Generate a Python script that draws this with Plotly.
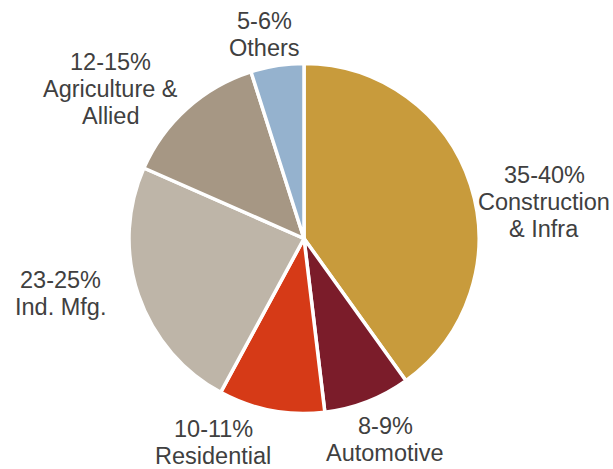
import plotly.graph_objects as go

# Segment shares (clockwise from 12 o'clock)
segments = ["Construction & Infra", "Automotive", "Residential",
            "Ind. Mfg.", "Agriculture & Allied", "Others"]
share_pct = [40.1, 8.0, 9.8, 23.7, 13.5, 4.9]
range_labels = ["35-40%", "8-9%", "10-11%", "23-25%", "12-15%", "5-6%"]
name_lines = [["Construction", "& Infra"], ["Automotive"], ["Residential"],
              ["Ind. Mfg."], ["Agriculture &", "Allied"], ["Others"]]
colors = ["#C89B3C", "#7B1C2A", "#D63A17", "#BEB5A8", "#A69784", "#95B2CE"]

# Layout: figure size, pie placement (pixels) and label anchors (pixels, top of first line)
W, H = 613, 469
CX, CY, R = 304, 238.5, 175
label_pos = [(544, 175), (385, 426), (213, 429), (60, 280), (110, 62), (264, 21)]
LINE_GAP = 27
FONT = dict(family="Liberation Sans, Arial, sans-serif", size=23.5, color="#404040")

fig = go.Figure(go.Pie(
    labels=segments,
    values=share_pct,
    sort=False,
    direction="clockwise",
    rotation=0,
    textinfo="none",
    marker=dict(colors=colors, line=dict(color="white", width=3.5)),
    domain=dict(x=[(CX - R) / W, (CX + R) / W], y=[1 - (CY + R) / H, 1 - (CY - R) / H]),
    showlegend=False,
    hoverinfo="label+value",
))

# Outside labels: range on the first line, segment name below
annotations = []
for (px, py), rng, names in zip(label_pos, range_labels, name_lines):
    for i, line in enumerate([rng] + names):
        annotations.append(dict(
            x=px / W, y=1 - (py + i * LINE_GAP) / H,
            xref="paper", yref="paper",
            xanchor="center", yanchor="middle",
            text=line, showarrow=False, font=FONT,
        ))

fig.update_layout(
    width=W, height=H,
    margin=dict(l=0, r=0, t=0, b=0),
    paper_bgcolor="white",
    plot_bgcolor="white",
    annotations=annotations,
)

fig.write_html("out.html")
